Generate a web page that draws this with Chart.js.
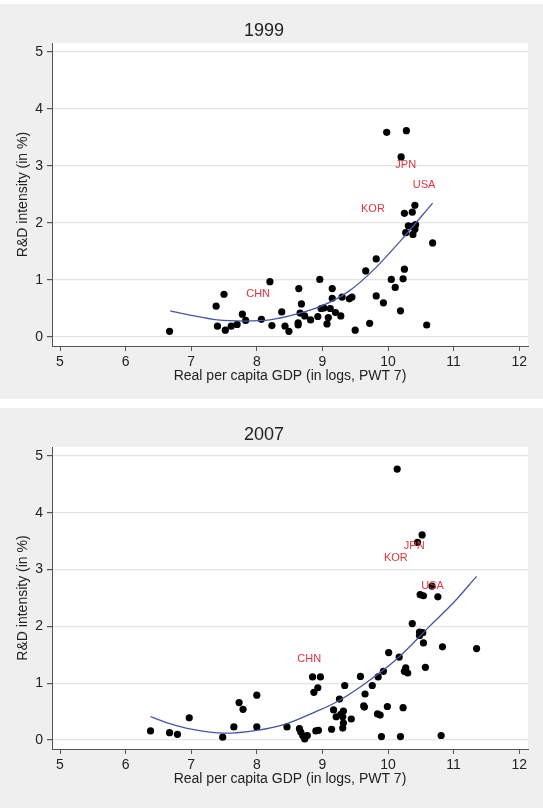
<!DOCTYPE html>
<html><head><meta charset="utf-8">
<script src="https://cdn.jsdelivr.net/npm/chart.js@4.4.1/dist/chart.umd.min.js"></script>
<style>
html,body{margin:0;padding:0;background:#ffffff;width:543px;height:808px;overflow:hidden;}
.panel{position:absolute;left:0;width:543px;background:#efefef;}
#p1{top:4px;height:395px;}
#p2{top:408px;height:400px;}
canvas{display:block;}
</style></head><body>
<div class="panel" id="p1"><canvas id="c1" width="543" height="395"></canvas></div>
<div class="panel" id="p2"><canvas id="c2" width="543" height="400"></canvas></div>
<script>
// ---- data ----
const xTicks = [5, 6, 7, 8, 9, 10, 11, 12];
const yTicks = [0, 1, 2, 3, 4, 5];

const gdp1999 = [6.67,7.38,7.50,7.40,7.52,7.61,7.70,7.78,7.83,8.07,8.20,8.23,8.38,8.43,8.49,8.64,8.68,8.66,8.63,8.63,8.73,8.82,8.93,8.96,8.98,9.02,9.07,9.09,9.12,9.15,9.15,9.20,9.28,9.30,9.41,9.45,9.50,9.66,9.72,9.82,9.82,9.93,9.98,10.05,10.11,10.19,10.20,10.23,10.25,10.25,10.28,10.27,10.31,10.37,10.41,10.38,10.42,10.41,10.37,10.59,10.68];
const rd1999  = [0.10,0.54,0.75,0.19,0.12,0.19,0.22,0.40,0.29,0.31,0.97,0.20,0.44,0.19,0.10,0.85,0.58,0.42,0.25,0.21,0.37,0.30,0.36,1.01,0.50,0.51,0.23,0.34,0.50,0.85,0.68,0.43,0.37,0.70,0.67,0.70,0.12,1.16,0.24,0.72,1.37,0.60,3.59,1.01,0.87,0.46,3.16,1.02,1.19,2.17,3.62,1.83,1.95,2.19,2.31,1.80,1.97,1.89,1.94,0.21,1.65];
const fitX1999 = [6.68,7.0,7.4,7.8,8.2,8.6,9.0,9.4,9.8,10.2,10.68];
const fitY1999 = [0.46,0.38,0.30,0.28,0.30,0.40,0.55,0.80,1.20,1.70,2.35];
const lab1999  = ['CHN','JPN','USA','KOR'];
const labX1999 = [8.02,10.27,10.55,9.77];
const labY1999 = [0.75,3.02,2.66,2.25];

const gdp2007 = [6.38,6.67,6.79,6.97,7.48,7.65,7.73,7.79,8.00,8.00,8.46,8.65,8.67,8.70,8.73,8.77,8.85,8.97,8.93,8.87,8.90,8.94,9.14,9.17,9.21,9.26,9.28,9.32,9.31,9.32,9.31,9.34,9.44,9.58,9.65,9.63,9.64,9.76,9.84,9.88,9.85,9.90,9.93,9.99,10.01,10.14,10.17,10.19,10.23,10.27,10.25,10.30,10.37,10.45,10.52,10.48,10.53,10.48,10.54,10.49,10.54,10.57,10.67,10.76,10.81,10.83,11.35];
const rd2007  = [0.16,0.13,0.10,0.39,0.05,0.23,0.66,0.54,0.79,0.23,0.23,0.20,0.14,0.08,0.02,0.08,1.11,1.11,0.92,0.84,0.16,0.17,0.19,0.53,0.41,0.72,0.45,0.51,0.41,0.30,0.21,0.96,0.37,1.12,0.81,0.60,0.58,0.96,0.46,0.44,1.11,0.06,1.21,0.59,1.54,4.77,1.46,0.06,0.57,1.27,1.21,1.18,2.05,3.48,3.61,1.90,1.89,1.84,1.71,2.56,2.54,1.28,2.71,2.52,0.08,1.64,1.61];
const fitX2007 = [6.38,6.7,7.0,7.5,8.0,8.46,8.9,9.2,9.62,10.13,10.64,11.0,11.35];
const fitY2007 = [0.41,0.28,0.19,0.12,0.17,0.29,0.50,0.66,0.97,1.42,2.01,2.42,2.88];
const lab2007  = ['CHN','JPN','KOR','USA'];
const labX2007 = [8.80,10.40,10.12,10.68];
const labY2007 = [1.43,3.42,3.20,2.71];

const xTitle = 'Real per capita GDP (in logs, PWT 7)';
const yTitle = 'R&D intensity (in %)';
// --------------------------------------

const FONT = "'Liberation Sans', Arial, sans-serif";
const TEXT = '#222222';
const AXIS = '#555555';

const bgPlugin = {
  id: 'plotbg',
  beforeDraw(chart) {
    const {ctx, chartArea: a} = chart;
    ctx.save();
    ctx.fillStyle = '#ffffff';
    ctx.fillRect(a.left, a.top, a.right - a.left, a.bottom - a.top);
    ctx.restore();
  }
};

const labelPlugin = {
  id: 'ctrylabels',
  afterDatasetsDraw(chart, args, opts) {
    const {ctx, scales: {x, y}} = chart;
    ctx.save();
    ctx.font = '11px ' + FONT;
    ctx.fillStyle = '#e0353d';
    ctx.textAlign = 'center';
    ctx.textBaseline = 'middle';
    opts.text.forEach((t, i) => {
      ctx.fillText(t, x.getPixelForValue(opts.xs[i]), y.getPixelForValue(opts.ys[i]));
    });
    ctx.restore();
  }
};

function makeChart(id, title, xs, ys, fx, fy, lt, lx, ly, bottomPad) {
  const pts = xs.map((v, i) => ({x: v, y: ys[i]}));
  const fit = fx.map((v, i) => ({x: v, y: fy[i]}));
  return new Chart(document.getElementById(id), {
    type: 'scatter',
    data: {
      datasets: [
        {
          type: 'line', data: fit, borderColor: '#4456a6', borderWidth: 1.3,
          pointRadius: 0, fill: false, cubicInterpolationMode: 'monotone', order: 0
        },
        {
          data: pts, backgroundColor: '#000000', borderWidth: 0,
          pointRadius: 3.6, pointHoverRadius: 3.6, order: 1
        }
      ]
    },
    options: {
      responsive: false,
      animation: false,
      devicePixelRatio: 1,
      events: [],
      layout: {padding: {left: 0, right: 15, top: 0, bottom: bottomPad}},
      plugins: {
        legend: {display: false},
        tooltip: {enabled: false},
        title: {
          display: true, text: title, color: TEXT,
          font: {family: FONT, size: 18, weight: 'normal', lineHeight: 1.2},
          padding: {top: 16.2, bottom: 1.2}
        },
        ctrylabels: {text: lt, xs: lx, ys: ly}
      },
      scales: {
        x: {
          type: 'linear', min: 4.878, max: 12.134,
          afterBuildTicks(s) { s.ticks = xTicks.map(v => ({value: v})); },
          afterFit(s) { s.height = 38.4; },
          grid: {drawOnChartArea: false, drawTicks: true, tickLength: 5, tickColor: AXIS},
          border: {display: true, color: AXIS, width: 1},
          ticks: {color: TEXT, padding: 2.6, maxRotation: 0, font: {family: FONT, size: 14}},
          title: {display: true, text: xTitle, color: TEXT, padding: {top: 0, bottom: 0},
                  font: {family: FONT, size: 14, lineHeight: 1.2}}
        },
        y: {
          type: 'linear', min: -0.158, max: 5.158,
          afterBuildTicks(s) { s.ticks = yTicks.map(v => ({value: v})); },
          afterFit(s) { s.width = 52; },
          grid: {drawOnChartArea: true, color: '#e4e4e4', lineWidth: 1.2, drawTicks: true, tickLength: 5, tickColor: AXIS},
          border: {display: true, color: AXIS, width: 1},
          ticks: {color: TEXT, padding: 4, font: {family: FONT, size: 14}},
          title: {display: true, text: yTitle, color: TEXT, padding: {top: 14.6, bottom: 0},
                  font: {family: FONT, size: 14, lineHeight: 1.2}}
        }
      }
    },
    plugins: [bgPlugin, labelPlugin]
  });
}

makeChart('c1', '1999', gdp1999, rd1999, fitX1999, fitY1999, lab1999, labX1999, labY1999, 14.6);
makeChart('c2', '2007', gdp2007, rd2007, fitX2007, fitY2007, lab2007, labX2007, labY2007, 20.6);
</script>
</body></html>
